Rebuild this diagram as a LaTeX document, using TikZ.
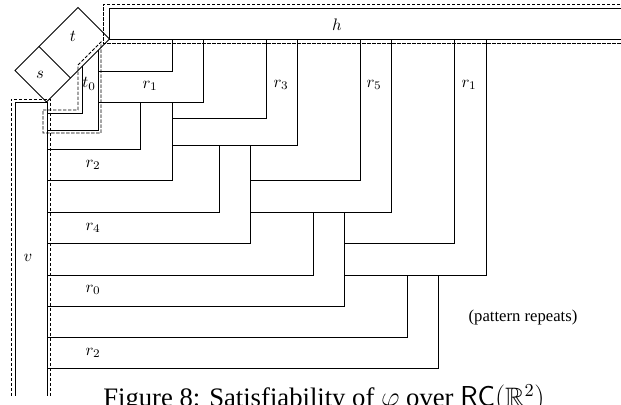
\documentclass[tikz,border=0pt]{standalone}
\usepackage{amssymb}
\usepackage[no-math]{fontspec}
\setmainfont{Liberation Serif}

\begin{document}
\begin{tikzpicture}[x=0.6pt, y=-0.6pt,
  region/.style={line width=0.5pt},
  nbhd/.style={line width=0.5pt, dash pattern=on 2pt off 1pt}]
  \useasboundingbox (0,0) rectangle (621,405);
  \clip (0,0) rectangle (621,405);

  \draw[nbhd] (640,4.5) -- (103,4.5) -- (103,43) -- (640,43);
  \draw[nbhd] (11,396) -- (11,99) -- (50,99) -- (50,396);
  \draw[nbhd] (43,110) -- (78,110) -- (78,65) -- (101,42) -- (101,133) -- (43,133) -- cycle;

  \draw[region] (640,8.5) -- (109,8.5) -- (109,39.5) -- (640,39.5);
  \draw[region] (15,396) -- (15,102) -- (47,102) -- (47,396);

  \draw[region] (15,70.5) -- (78,7.5) -- (109.5,39) -- (46.5,102) -- cycle;
  \draw[region] (39,46.5) -- (70.5,78);

  \draw[region] (82,66.5) -- (82,113) -- (47,113);
  \draw[region] (98,50.5) -- (98,130) -- (47,130);

  \foreach \xl/\xr/\ya/\yb/\xa in {172/203/71/102/98, 266/297/118/145/172,
      360/391/180/212/250, 454/486/243/275/344}
    \draw[region] (\xl,39.5) -- (\xl,\ya) -- (\xa,\ya) -- (\xa,\yb) -- (\xr,\yb) -- (\xr,39.5);
  \foreach \xl/\xr/\yt/\yb/\ya in {140/172/102/180/149, 219/250/145/243/212,
      313/344/212/306/275, 407/438/275/368/337}
    \draw[region] (\xl,\yt) -- (\xr,\yt) -- (\xr,\yb) -- (47,\yb) -- (47,\ya) -- (\xl,\ya) -- cycle;

  \node (lh) at (337,25) {$h$};
  \node (lv) at (28,258) {$v$};
  \node (ls) at (40,75) {$s$};
  \node (lt) at (73,36) {$t$};
  \node (lt0) at (89,84) {$t_0$};
  \node (lr1) at (150,86) {$r_1$};
  \node (lr3) at (281,85) {$r_3$};
  \node (lr5) at (374,85) {$r_5$};
  \node (lr1b) at (469,85) {$r_1$};
  \node (lr2) at (93,165) {$r_2$};
  \node (lr4) at (93,228) {$r_4$};
  \node (lr0) at (93,290) {$r_0$};
  \node (lr2b) at (93,353) {$r_2$};
  \node (rep) at (523,317) {(pattern repeats)};
  \node[anchor=base west, inner sep=0pt, font=\fontsize{16}{19}\selectfont] (cap) at (103,407)
    {Figure 8: Satisfiability of $\varphi$ over $\mathsf{RC}(\mathbb{R}^2)$};
\end{tikzpicture}
\end{document}
